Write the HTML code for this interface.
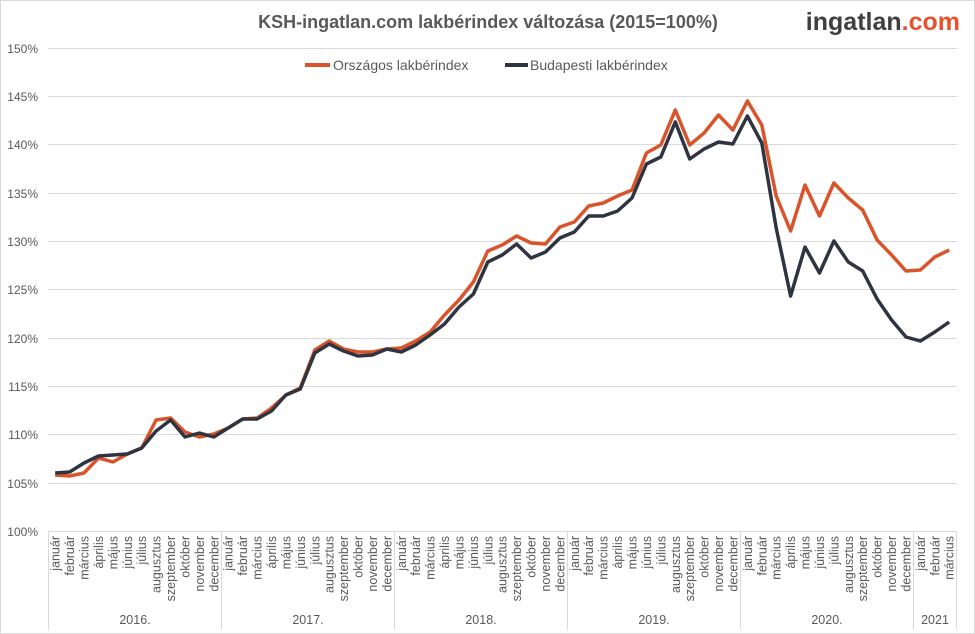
<!DOCTYPE html>
<html><head><meta charset="utf-8"><style>
html,body{margin:0;padding:0;background:#fff;}
svg{display:block;font-family:"Liberation Sans",sans-serif;}
</style></head><body>
<svg width="975" height="634" viewBox="0 0 975 634" xmlns="http://www.w3.org/2000/svg">
<rect x="0.5" y="0.5" width="974" height="633" fill="#fff" stroke="#d9d9d9"/>
<text x="488" y="28" text-anchor="middle" font-size="18" font-weight="bold" fill="#595959">KSH-ingatlan.com lakbérindex változása (2015=100%)</text>
<text x="960" y="30" text-anchor="end" font-size="25" font-weight="bold" fill="#404040">ingatlan<tspan fill="#e8502f">.com</tspan></text>
<g stroke="#d9d9d9" stroke-width="1">
<line x1="48" y1="48.5" x2="957" y2="48.5"/><line x1="48" y1="96.5" x2="957" y2="96.5"/><line x1="48" y1="144.5" x2="957" y2="144.5"/><line x1="48" y1="193.5" x2="957" y2="193.5"/><line x1="48" y1="241.5" x2="957" y2="241.5"/><line x1="48" y1="289.5" x2="957" y2="289.5"/><line x1="48" y1="338.5" x2="957" y2="338.5"/><line x1="48" y1="386.5" x2="957" y2="386.5"/><line x1="48" y1="434.5" x2="957" y2="434.5"/><line x1="48" y1="483.5" x2="957" y2="483.5"/><line x1="48" y1="531.5" x2="957" y2="531.5"/>
<line x1="48.5" y1="531" x2="48.5" y2="630"/><line x1="221.5" y1="531" x2="221.5" y2="630"/><line x1="394.5" y1="531" x2="394.5" y2="630"/><line x1="567.5" y1="531" x2="567.5" y2="630"/><line x1="740.5" y1="531" x2="740.5" y2="630"/><line x1="913.5" y1="531" x2="913.5" y2="630"/><line x1="956.5" y1="531" x2="956.5" y2="630"/>
</g>
<g font-size="12" fill="#595959" text-anchor="end">
<text x="38" y="53">150%</text><text x="38" y="101">145%</text><text x="38" y="149">140%</text><text x="38" y="198">135%</text><text x="38" y="246">130%</text><text x="38" y="294">125%</text><text x="38" y="343">120%</text><text x="38" y="391">115%</text><text x="38" y="439">110%</text><text x="38" y="488">105%</text><text x="38" y="536">100%</text>
</g>
<g id="months" font-size="12.5" fill="#595959" text-anchor="end"></g>
<g font-size="12.5" fill="#595959" text-anchor="middle">
<text x="135" y="624">2016.</text><text x="308" y="624">2017.</text><text x="481" y="624">2018.</text><text x="654" y="624">2019.</text><text x="827" y="624">2020.</text><text x="935" y="624">2021</text>
</g>
<line x1="305" y1="65" x2="330" y2="65" stroke="#d9532b" stroke-width="4"/>
<text x="333" y="70" font-size="14" fill="#595959">Országos lakbérindex</text>
<line x1="505" y1="65" x2="528" y2="65" stroke="#2f3441" stroke-width="4"/>
<text x="530" y="70" font-size="14" fill="#595959">Budapesti lakbérindex</text>
<polyline id="o" fill="none" stroke="#d9532b" stroke-width="3.5" stroke-linejoin="round"/>
<polyline id="d" fill="none" stroke="#2f3441" stroke-width="3.5" stroke-linejoin="round"/>
</svg>
<script>
var o=[475,476,473,458,462,454,448,420,418,432,437,434,428,419,418,408,395,388,350,341,349,352,352,349,348,341,332,315,300,282,251,245,236,243,244,227,222,206,203,196,190,153,145,110,145,133,115,130,101,125,196,231,185,216,183,198,210,240,255,271,270,257,250];
var d=[473,472,463,456,455,454,448,431,420,437,433,437,428,419,419,411,395,389,353,344,351,356,355,349,352,345,335,324,307,294,262,255,244,258,252,238,232,216,216,211,198,164,157,122,159,149,142,144,116,143,228,296,247,273,241,262,271,299,320,337,341,332,322];
function pts(a){return a.map(function(y,i){return (55.2+i*14.42).toFixed(1)+","+y}).join(" ");}
document.getElementById("o").setAttribute("points",pts(o));
document.getElementById("d").setAttribute("points",pts(d));
var m=["január","február","március","április","május","június","július","augusztus","szeptember","október","november","december"];
var g=document.getElementById("months"),s="";
for(var i=0;i<63;i++){var x=55.2+i*14.42+4.5;s+='<text transform="translate('+x.toFixed(1)+' 536) rotate(-90)">'+m[i%12]+'</text>';}
g.innerHTML=s;
</script>
</body></html>
